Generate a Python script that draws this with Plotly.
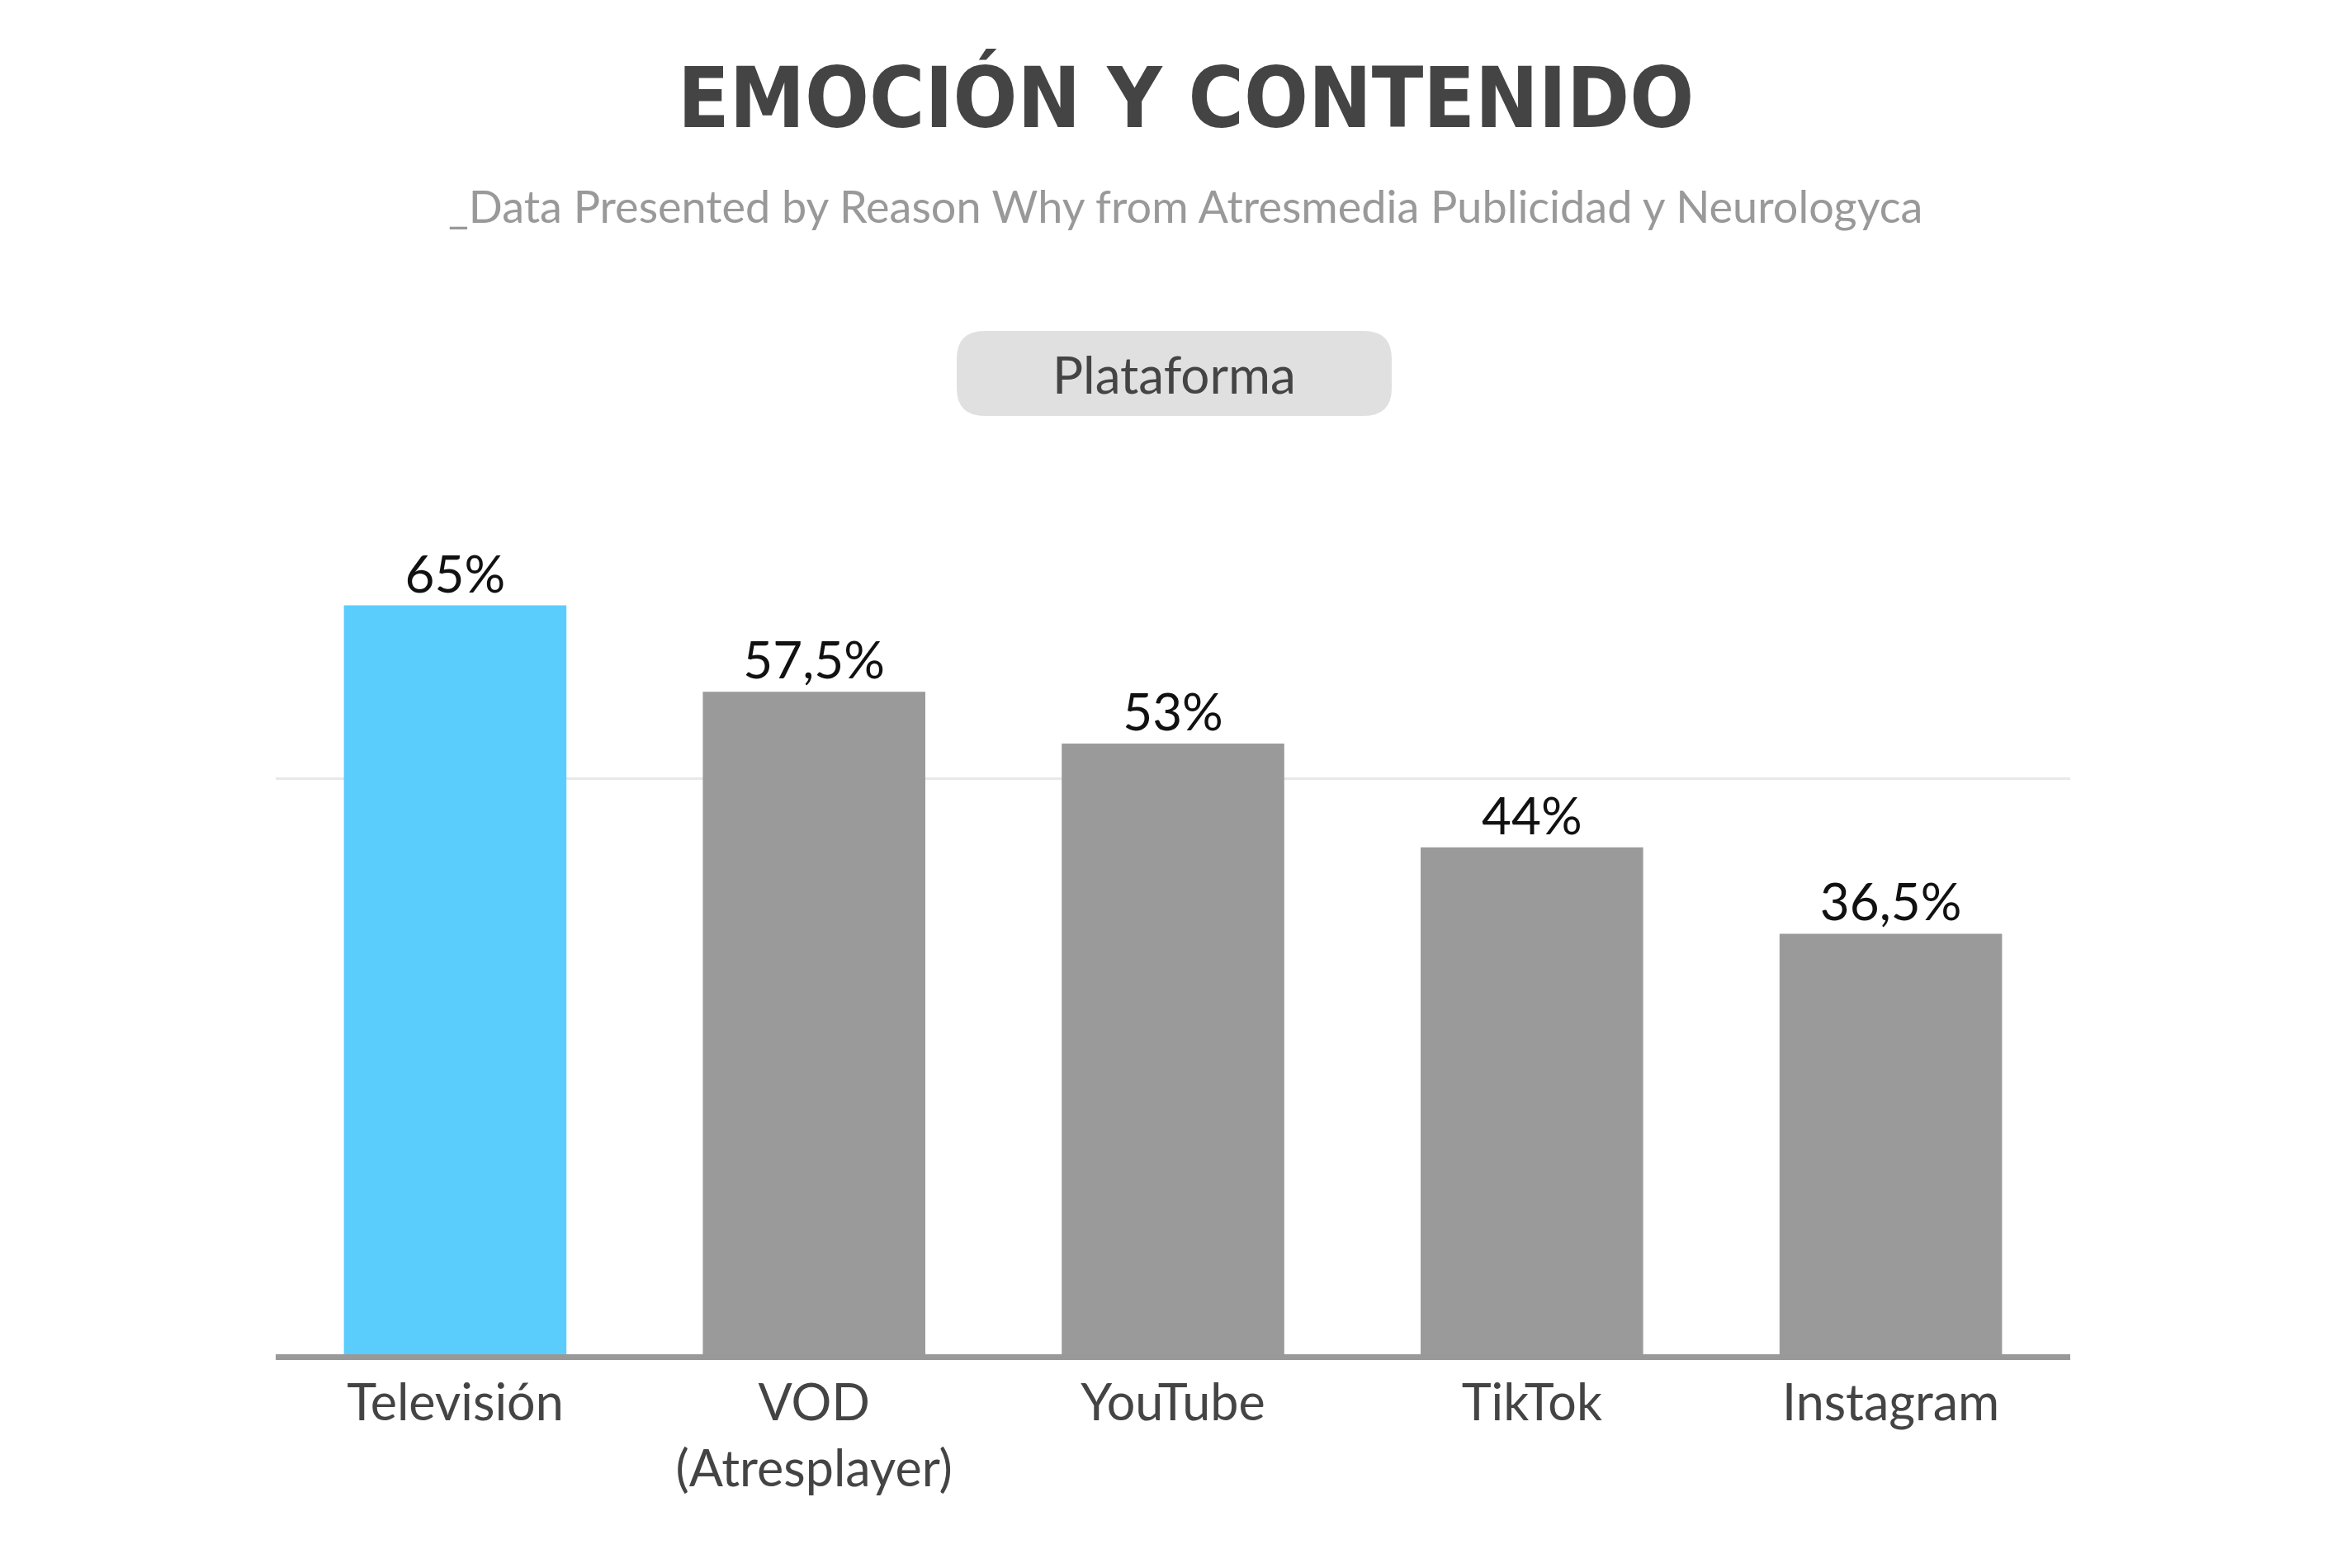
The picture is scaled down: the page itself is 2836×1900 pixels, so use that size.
import plotly.graph_objects as go

categories = ["Televisión", "VOD<br>(Atresplayer)", "YouTube", "TikTok", "Instagram"]
values = [65, 57.5, 53, 44, 36.5]
labels = ["65%", "57,5%", "53%", "44%", "36,5%"]
colors = ["#5bcdfd", "#9a9a9a", "#9a9a9a", "#9a9a9a", "#9a9a9a"]

W, H = 2836, 1900
L, R, T, B = 326, 336, 237, 267
PW, PH = W - L - R, H - T - B

def px(x):
    return (x - L) / PW

def py(y):
    return (H - B - y) / PH

fig = go.Figure(go.Bar(
    x=categories, y=values, text=labels, textposition="outside",
    marker=dict(color=colors, line=dict(width=0)), width=0.62,
    textfont=dict(family="Lato", size=62, color="#111111"), cliponaxis=False,
))

fig.update_layout(
    width=W, height=H, plot_bgcolor="white", paper_bgcolor="white",
    margin=dict(l=L, r=R, t=T, b=B),
    showlegend=False,
    xaxis=dict(showline=True, linecolor="#999999", linewidth=7,
               tickfont=dict(family="Lato", size=61, color="#444444"), ticks=""),
    yaxis=dict(range=[0, 100], tickvals=[50], showticklabels=False,
               gridcolor="#e8e8e8", gridwidth=3, zeroline=False),
    font=dict(family="Lato"),
)

fig.add_annotation(text="<b>EMOCIÓN Y CONTENIDO</b>", xref="paper", yref="paper",
                   x=px(1428), y=py(110), xanchor="center", yanchor="middle", showarrow=False,
                   font=dict(family="DejaVu Sans Condensed", size=102, color="#444444"))
fig.add_annotation(text="_Data Presented by Reason Why from Atresmedia Publicidad y Neurologyca",
                   xref="paper", yref="paper", x=px(1428), y=py(241),
                   xanchor="center", yanchor="middle", showarrow=False,
                   font=dict(family="Lato", size=54, color="#999999"))

# rounded box
x0, x1, y0, y1, r = 1151, 1678, 393, 496, 34
path = (f"M {px(x0+r)},{py(y0)} L {px(x1-r)},{py(y0)} Q {px(x1)},{py(y0)} {px(x1)},{py(y0+r)} "
        f"L {px(x1)},{py(y1-r)} Q {px(x1)},{py(y1)} {px(x1-r)},{py(y1)} "
        f"L {px(x0+r)},{py(y1)} Q {px(x0)},{py(y1)} {px(x0)},{py(y1-r)} "
        f"L {px(x0)},{py(y0+r)} Q {px(x0)},{py(y0)} {px(x0+r)},{py(y0)} Z")
fig.add_shape(type="path", xref="paper", yref="paper", path=path,
              fillcolor="#e0e0e0", line=dict(width=0), layer="below")
fig.add_annotation(text="Plataforma", xref="paper", yref="paper",
                   x=px((x0 + x1) / 2), y=py((y0 + y1) / 2), xanchor="center", yanchor="middle",
                   showarrow=False, font=dict(family="Lato", size=62, color="#444444"))

fig.write_html("out.html")
